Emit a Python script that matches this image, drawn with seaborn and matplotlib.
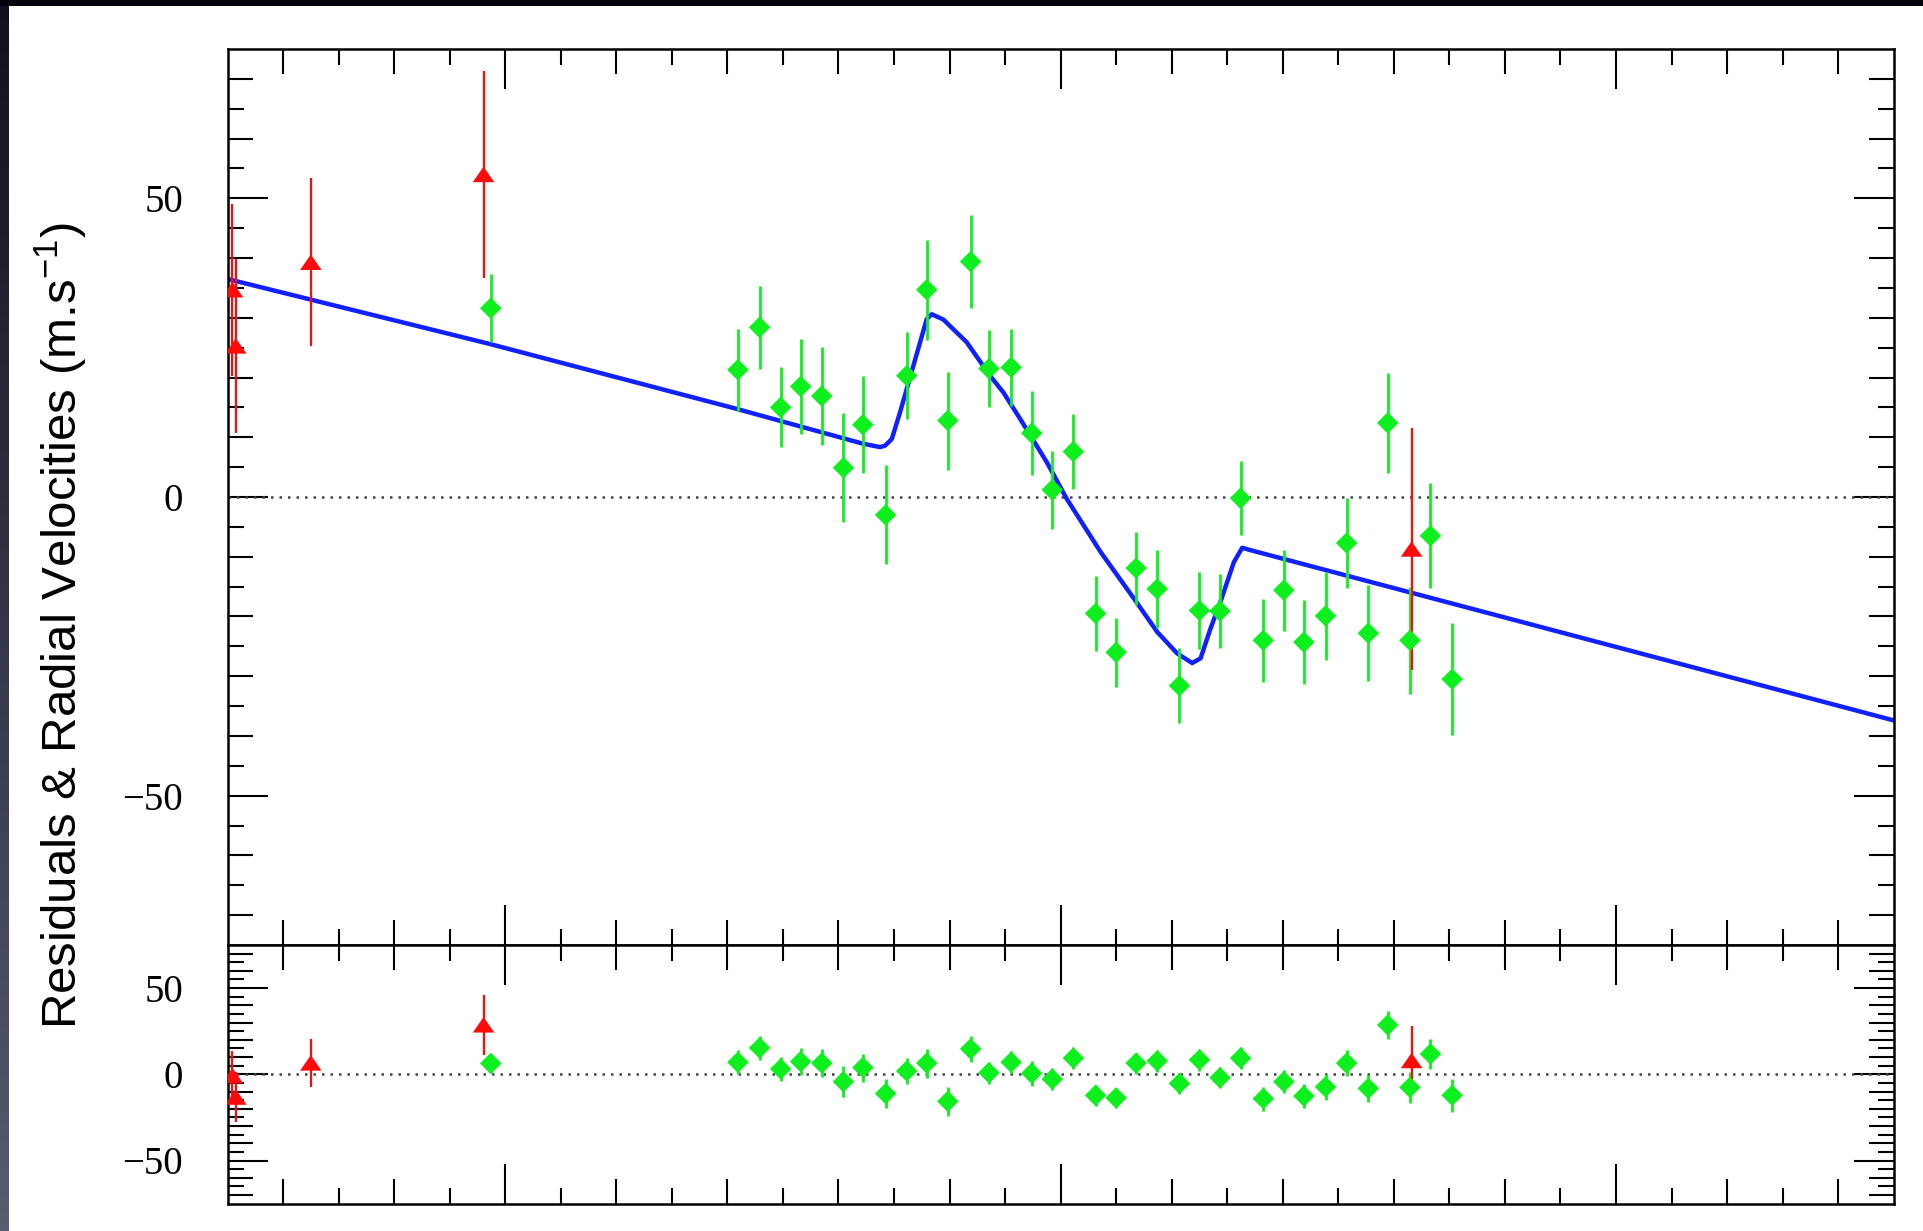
import numpy as np
import pandas as pd
import matplotlib
matplotlib.use("Agg")
import matplotlib.pyplot as plt
from matplotlib.ticker import FixedLocator, NullFormatter
from matplotlib.colors import LinearSegmentedColormap
import seaborn as sns

# ---------------- data ----------------
# green points (diamonds)
green_x = [4.74, 9.19, 9.58, 9.96, 10.32, 10.70, 11.09, 11.44, 11.85, 12.23, 12.59, 12.97,
           13.38, 13.71, 14.11, 14.48, 14.85, 15.23, 15.63, 16.00, 16.36, 16.74, 17.14, 17.50,
           17.87, 18.24, 18.65, 19.02, 19.38, 19.77, 20.15, 20.54, 20.89, 21.29, 21.66, 22.05]
green_rv = [31.6, 21.3, 28.4, 15.0, 18.5, 16.9, 4.9, 12.1, -3.0, 20.3, 34.7, 12.8,
            39.4, 21.5, 21.7, 10.7, 1.2, 7.6, -19.5, -26.0, -11.9, -15.4, -31.6, -19.0,
            -19.1, -0.2, -24.0, -15.6, -24.3, -19.9, -7.7, -22.8, 12.4, -24.0, -6.5, -30.5]
green_err = [5.7, 6.9, 6.9, 6.7, 7.9, 8.2, 9.1, 8.1, 8.3, 7.3, 8.4, 8.2,
             7.8, 6.4, 6.5, 7.1, 6.5, 6.3, 6.2, 5.8, 6.1, 6.5, 6.3, 6.4,
             6.2, 6.2, 6.9, 6.8, 7.0, 7.4, 7.5, 8.0, 8.3, 9.0, 8.8, 9.4]
green_res = [6.3, 7.0, 15.3, 3.1, 7.4, 6.5, -4.3, 3.9, -11.2, 1.9, 6.5, -15.7,
             14.7, 0.9, 7.0, 0.6, -2.8, 9.4, -12.2, -13.7, 6.5, 7.8, -5.3, 8.4,
             -2.0, 9.4, -14.1, -4.3, -12.6, -7.3, 6.5, -8.2, 28.6, -7.6, 11.8, -12.2]

# red points (triangles)
red_x = [0.09, 0.15, 1.50, 4.61, 21.32]
red_rv = [34.7, 25.3, 39.3, 54.0, -8.7]
red_err = [14.4, 14.6, 14.1, 17.3, 20.2]
red_res = [-0.8, -13.2, 6.6, 28.7, 8.0]

# model curve (blue)
model_x = [0.0, 4.73, 9.15, 11.45, 11.75, 11.84, 11.96, 12.11, 12.35, 12.59, 12.68, 12.89,
           13.31, 13.73, 13.97, 14.27, 14.75, 15.11, 15.72, 16.32, 16.74, 17.10, 17.37,
           17.52, 17.70, 17.88, 18.12, 18.27, 18.42, 30.0]
model_y = [36.5, 25.6, 14.8, 8.9, 8.35, 8.6, 9.7, 14.2, 22.0, 29.8, 30.6, 29.7,
           25.9, 20.3, 17.5, 13.1, 5.85, -0.3, -9.2, -17.0, -22.6, -26.2, -27.8,
           -27.0, -22.0, -17.5, -10.9, -8.5, -8.9, -37.4]

x_major = [5, 15, 25]
y_major = [-50, 0, 50]
ylabel_text = "Residuals & Radial Velocities (m.s$^{-1}$)"

# ---------------- style ----------------
sns.set_theme(style="white")
plt.rcParams["font.family"] = ["Liberation Serif", "DejaVu Serif"]
plt.rcParams["mathtext.default"] = "regular"
plt.rcParams["axes.unicode_minus"] = True

GREEN = "#0ef01e"
RED = "#ff0a0a"
BLUE = "#1020ff"

W, H = 1923, 1231
fig = plt.figure(figsize=(W / 100, H / 100), dpi=100)
fig.patch.set_facecolor("white")

ax = fig.add_axes([227.5 / W, 1 - 945 / H, (1893.7 - 227.5) / W, (945 - 49) / H])
axr = fig.add_axes([227.5 / W, 1 - 1203.6 / H, (1893.7 - 227.5) / W, (1203.6 - 945) / H])

tri = [(-1, -0.72), (1, -0.72), (0, 0.72)]

gdf = pd.DataFrame({"x": green_x, "rv": green_rv, "err": green_err, "res": green_res})
rdf = pd.DataFrame({"x": red_x, "rv": red_rv, "err": red_err, "res": red_res})
mdf = pd.DataFrame({"x": model_x, "y": model_y})

for a, col in ((ax, "rv"), (axr, "res")):
    a.set_xlim(0, 30)
    a.set_ylim(-75, 75)
    a.axhline(0, color="#444444", lw=1.8, ls=(0, (1.0, 2.4)), zorder=1)
    a.errorbar(gdf["x"], gdf[col], yerr=gdf["err"], fmt="none", ecolor=GREEN,
               elinewidth=2.0, capsize=0, zorder=3)
    a.errorbar(rdf["x"], rdf[col], yerr=rdf["err"], fmt="none", ecolor=RED,
               elinewidth=1.6, capsize=0, zorder=3)
    sns.scatterplot(data=gdf, x="x", y=col, ax=a, marker="D", s=120, color=GREEN,
                    edgecolor="none", linewidth=0, zorder=4)
    sns.scatterplot(data=rdf, x="x", y=col, ax=a, marker=tri, s=240, color=RED,
                    edgecolor="none", linewidth=0, zorder=4)
    a.set_xlabel("")
    a.set_ylabel("")

sns.lineplot(data=mdf, x="x", y="y", ax=ax, color=BLUE, lw=3.2, sort=False,
             estimator=None, zorder=2)
ax.set_xlabel("")
ax.set_ylabel("")

x_minor = [v for v in range(1, 30) if v not in x_major]
y_minor = [v for v in range(-70, 75, 5) if v not in y_major]

for a in (ax, axr):
    for s in a.spines.values():
        s.set_color("black")
        s.set_linewidth(1.8)
        s.set_visible(True)
    a.xaxis.set_major_locator(FixedLocator(x_major))
    a.xaxis.set_minor_locator(FixedLocator(x_minor))
    a.yaxis.set_major_locator(FixedLocator(y_major))
    a.yaxis.set_minor_locator(FixedLocator(y_minor))
    a.xaxis.set_minor_formatter(NullFormatter())
    a.yaxis.set_minor_formatter(NullFormatter())
    a.tick_params(which="major", direction="in", length=28.5, width=1.5, color="black",
                  top=True, bottom=True, left=True, right=True,
                  labelbottom=False, labeltop=False, labelright=False, labelleft=True,
                  labelsize=28, pad=32, labelcolor="black")
    a.tick_params(which="minor", direction="in", length=11.5, width=1.5, color="black",
                  top=True, bottom=True, left=True, right=True)

# dark slide border
strip = fig.add_axes([0, 0, 9 / W, 1])
grad = np.linspace(0, 1, 256).reshape(-1, 1)
cmap = LinearSegmentedColormap.from_list("edge", ["#10101e", "#5a5a70"])
strip.imshow(grad, aspect="auto", cmap=cmap, extent=[0, 1, 0, 1])
strip.set_axis_off()
topband = fig.add_axes([0, 1 - 6 / H, 1, 6 / H])
topband.set_facecolor("#03030c")
topband.set_xticks([])
topband.set_yticks([])
for s in topband.spines.values():
    s.set_visible(False)

fig.text(0.0322, 1 - 625.5 / H, ylabel_text, rotation=90, ha="center", va="center",
         fontsize=35.5, family=["Liberation Sans", "DejaVu Sans"], color="black")

# three-level ROOT style ticks: medium ticks on selected minor positions
fig.canvas.draw()
MED = 18.0
for a in (ax, axr):
    for t, loc in zip(a.xaxis.get_minor_ticks(len(x_minor)), x_minor):
        if (loc - 5) % 2 == 0:
            t.tick1line.set_markersize(MED)
            t.tick2line.set_markersize(MED)
    for t, loc in zip(a.yaxis.get_minor_ticks(len(y_minor)), y_minor):
        if loc % 10 == 0:
            t.tick1line.set_markersize(MED)
            t.tick2line.set_markersize(MED)

fig.savefig("out.png", dpi=100, facecolor="white")
